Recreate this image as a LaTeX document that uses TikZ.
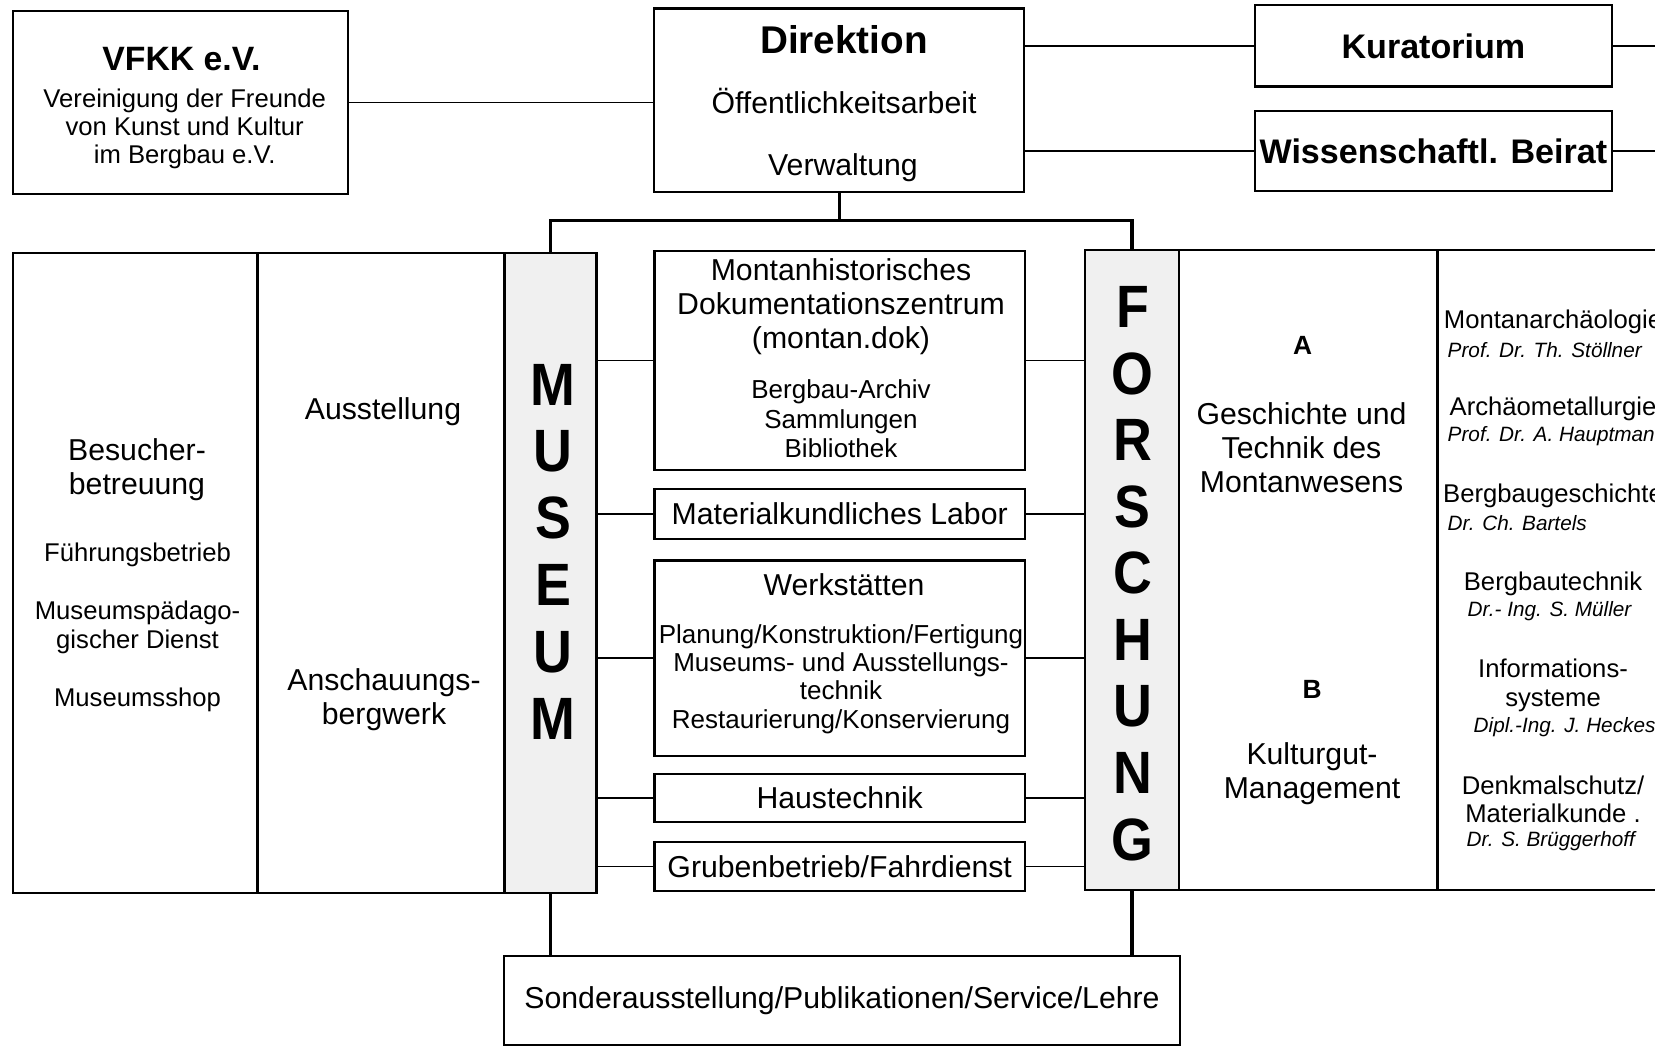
\documentclass[tikz,border=0pt]{standalone}
\usepackage{fontspec}
\setmainfont{Liberation Sans}
\begin{document}
\begin{tikzpicture}[
box/.style={rectangle, draw, line width=0.6pt, inner sep=0pt},
band/.style={rectangle, draw, line width=0.6pt, fill=black!6, inner sep=0pt},
txt/.style={align=center, inner sep=0pt, font=\fontsize{8.6}{9.7}\selectfont},
sml/.style={align=center, inner sep=0pt, font=\fontsize{7.3}{8.1}\selectfont},
who/.style={anchor=west, inner sep=0pt, font=\fontsize{5.9}{7}\selectfont\itshape},
head/.style={inner sep=0pt, font=\fontsize{9.7}{11}\selectfont\bfseries},
big/.style={inner sep=0pt, font=\fontsize{17}{19}\selectfont\bfseries},
link/.style={line width=0.45pt},
tree/.style={line width=0.9pt}]

\useasboundingbox (0,0) rectangle (16.55,-10.47);

\node[box, minimum width = 3.356cm, 
minimum height = 1.837cm] (vfkk) at (1.805,-1.024) {};
\node[box, minimum width = 3.694cm, 
minimum height = 1.837cm] (direk) at (8.391,-1.003) {};
\node[box, head, minimum width = 3.568cm, 
minimum height = 0.812cm] (kurat) at (14.334,-0.459) {Kuratorium};
\node[box, head, minimum width = 3.568cm, 
minimum height = 0.802cm] (beirat) at (14.334,-1.509) {Wissenschaftl. Beirat};

\node[head, font=\fontsize{9.6}{11}\selectfont\bfseries] (vfkkT) at (1.815,-0.59) {VFKK e.V.};
\node[sml, font=\fontsize{7.3}{8}\selectfont] (vfkkS) at (1.847,-1.29)
{Vereinigung der Freunde\\von Kunst und Kultur\\im Bergbau e.V.};
\node[head, font=\fontsize{11}{13}\selectfont\bfseries] (direkT) at (8.44,-0.40) {Direktion};
\node[txt] (direkO) at (8.44,-1.01) {Öffentlichkeitsarbeit};
\node[txt] (direkV) at (8.43,-1.68) {Verwaltung};

\coordinate (kend) at (16.7,-0.459);
\coordinate (bend) at (16.7,-1.509);
\draw[link] (vfkk.east) -- (vfkk.east -| direk.west);
\draw[link] (kurat.west) -- (kurat.west -| direk.east);
\draw[link] (beirat.west) -- (beirat.west -| direk.east);
\draw[link] (kurat.east) -- (kend);
\draw[link] (beirat.east) -- (bend);

\node[box, minimum width = 2.448cm, 
minimum height = 6.397cm] (besuch) at (1.351,-5.732) {};
\node[box, minimum width = 2.47cm, 
minimum height = 6.397cm] (ausst) at (3.81,-5.732) {};
\node[band, minimum width = 0.919cm, 
minimum height = 6.397cm] (museum) at (5.505,-5.732) {};

\node[txt] (besT) at (1.37,-4.70) {Besucher-\\betreuung};
\node[sml, font=\fontsize{7.3}{8.25}\selectfont] (besS) at (1.375,-6.27)
{Führungsbetrieb\\[8.25pt]Museumspädago-\\gischer Dienst\\[8.25pt]Museumsshop};
\node[txt] (ausT) at (3.83,-4.12) {Ausstellung};
\node[txt] (anschT) at (3.84,-7.0) {Anschauungs-\\bergwerk};

\foreach \l [count=\i] in {M,U,S,E,U,M}
  \node[big] (mus\i) at (5.53,{-3.85-0.667*(\i-1)}) {\scalebox{0.9}[1]{\l}};

\node[box, minimum width = 3.705cm, 
minimum height = 2.185cm] (mont) at (8.397,-3.605) {};
\node[box, txt, minimum width = 3.705cm, 
minimum height = 0.507cm] (labor) at (8.397,-5.14) {Materialkundliches Labor};
\node[box, minimum width = 3.705cm, 
minimum height = 1.952cm] (werk) at (8.397,-6.581) {};
\node[box, txt, minimum width = 3.705cm, 
minimum height = 0.485cm] (haus) at (8.397,-7.98) {Haustechnik};
\node[box, txt, minimum width = 3.705cm, 
minimum height = 0.485cm] (grube) at (8.397,-8.665) {Grubenbetrieb/Fahrdienst};

\node[txt] (montT) at (8.41,-3.07) {Montanhistorisches\\Dokumentationszentrum\\(montan.dok)};
\node[sml, font=\fontsize{7.4}{8.4}\selectfont] (montS) at (8.41,-4.19)
{Bergbau-Archiv\\Sammlungen\\Bibliothek};
\node[txt] (werkT) at (8.44,-5.845) {Werkstätten};
\node[sml, font=\fontsize{7.4}{8.1}\selectfont] (werkS) at (8.41,-6.79)
{Planung/Konstruktion/Fertigung\\Museums- und Ausstellungs-\\technik\\Restaurierung/Konservierung};

\node[band, minimum width = 0.94cm, 
minimum height = 6.396cm] (forsch) at (11.32,-5.70) {};
\node[box, minimum width = 2.586cm, 
minimum height = 6.396cm] (ab) at (13.083,-5.70) {};
\node[box, minimum width = 2.43cm, 
minimum height = 6.396cm] (rcol) at (15.59,-5.70) {};

\foreach \l [count=\i] in {F,O,R,S,C,H,U,N,G}
  \node[big] (for\i) at (11.325,{-3.07-0.666*(\i-1)}) {\scalebox{0.9}[1]{\l}};

\node[head, font=\fontsize{7.5}{9}\selectfont\bfseries] (aT) at (13.025,-3.45) {A};
\node[txt] (aS) at (13.015,-4.48) {Geschichte und\\Technik des\\Montanwesens};
\node[head, font=\fontsize{7.5}{9}\selectfont\bfseries] (bT) at (13.12,-6.89) {B};
\node[txt] (bS) at (13.12,-7.74) {Kulturgut-\\Management};

\node[sml] (r1) at (15.53,-3.22) {Montanarchäologie};
\node[sml] (r2) at (15.53,-4.09) {Archäometallurgie};
\node[sml] (r3) at (15.53,-4.96) {Bergbaugeschichte};
\node[sml] (r4) at (15.53,-5.84) {Bergbautechnik};
\node[sml] (r5) at (15.53,-6.855) {Informations-\\systeme};
\node[sml] (r6) at (15.53,-7.995) {Denkmalschutz/\\Materialkunde .};
\node[who] (n1) at (14.47,-3.50) {Prof. Dr. Th. Stöllner};
\node[who] (n2) at (14.47,-4.36) {Prof. Dr. A. Hauptmann};
\node[who] (n3) at (14.47,-5.23) {Dr. Ch. Bartels};
\node[who] (n4) at (14.67,-6.11) {Dr.- Ing. S. Müller};
\node[who] (n5) at (14.73,-7.27) {Dipl.-Ing. J. Heckes};
\node[who] (n6) at (14.66,-8.41) {Dr. S. Brüggerhoff};

\node[box, txt, minimum width = 6.755cm, 
minimum height = 0.89cm] (sonder) at (8.42,-10.005) {Sonderausstellung/Publikationen/Service/Lehre};

\foreach \b in {mont,labor,werk,haus,grube} {
  \draw[link] (\b.west) -- (\b.west -| museum.east);
  \draw[link] (\b.east) -- (\b.east -| forsch.west);
}

\draw[tree] (direk.south) -- ++(0,-0.274) coordinate (fork) -| (museum.north);
\draw[tree] (fork) -| (forsch.north);
\draw[tree] (museum.south) -- (museum.south |- sonder.north);
\draw[tree] (forsch.south) -- (forsch.south |- sonder.north);

\end{tikzpicture}
\end{document}
